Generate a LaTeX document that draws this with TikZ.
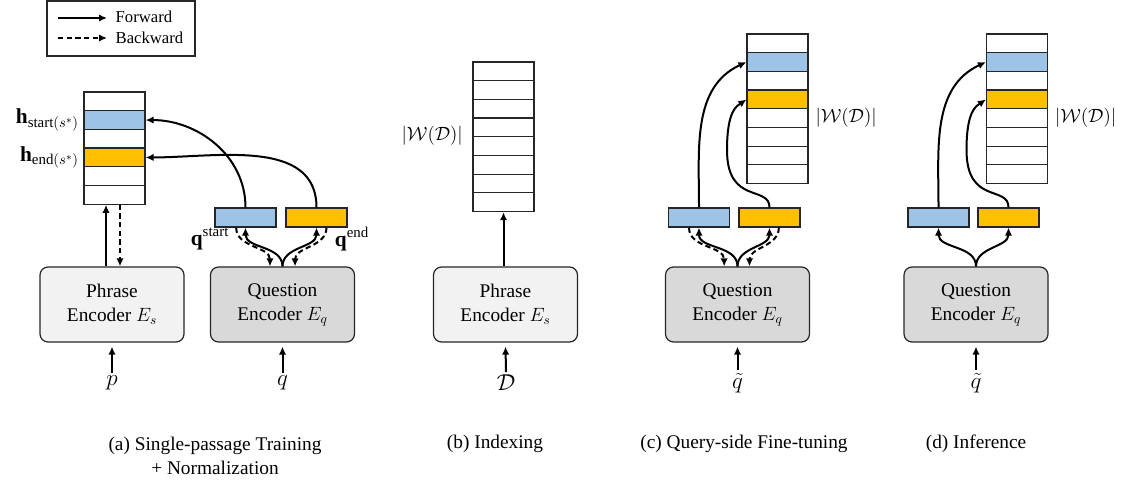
\documentclass[tikz,border=0pt]{standalone}
\usepackage{fontspec}
\setmainfont{Liberation Serif}
\usepackage{amsmath}
\usetikzlibrary{arrows.meta}
\usetikzlibrary{positioning}
\usetikzlibrary{math}
\definecolor{qblue}{RGB}{157,195,230}
\definecolor{qyellow}{RGB}{255,192,0}
\definecolor{phrasefill}{RGB}{242,242,242}
\definecolor{questfill}{RGB}{217,217,217}
\tikzset{
	cell/.style={draw=black!85, line width=0.9pt, minimum width=45.75pt, minimum height=14.03pt, inner sep=0pt},
	vec/.style={draw=black!85, line width=0.9pt, minimum width=45.75pt, minimum height=14.25pt, inner sep=0pt},
	enc/.style={draw=black!85, line width=0.9pt, rounded corners=6pt, minimum width=108pt, minimum height=56.25pt, align=center},
	fw/.style={line width=1.5pt, -{Latex[length=6pt,width=5.5pt]}},
	bw/.style={fw, dash pattern=on 4pt off 2.5pt},
	inp/.style={font=\fontsize{18}{20}\selectfont, inner sep=2pt},
	sizelabel/.style={font=\fontsize{13.5}{16}\selectfont, inner sep=1pt},
}

\begin{document}
\begin{tikzpicture}[x=0.75pt, y=-0.75pt, font=\fontsize{14.5}{18}\selectfont]
	\tikzmath{\rh=18.7; \ta=92; \tb=62; \tc=34;}
	\useasboundingbox (0,0) rectangle (1126,484);

	% legend
	\node[draw=black!85, line width=0.9pt, minimum width=111pt, minimum height=41.25pt] (legend) at (121,28.5) {};
	\coordinate (fwA) at (58,18); \coordinate (fwB) at (107,18);
	\coordinate (bwA) at (58,38); \coordinate (bwB) at (107,38);
	\draw[fw] (fwA) -- (fwB);
	\draw[bw] (bwA) -- (bwB);
	\node[anchor=west, font=\fontsize{12.5}{14}\selectfont] (fwtext) at (111,17) {Forward};
	\node[anchor=west, font=\fontsize{12.5}{14}\selectfont] (bwtext) at (111,38) {Backward};

	% (a) single-passage training
	\foreach \i/\col in {1/white,2/qblue,3/white,4/qyellow,5/white,6/white}
		\node[cell, fill=\col] (a\i) at (114.5, {\ta+(\i-0.5)*\rh}) {};
	\node[left=0pt of a2, font=\fontsize{16}{18}\selectfont] (hstart) {$\mathbf{h}_{\mathrm{start}(s^*)}$};
	\node[left=0pt of a4, font=\fontsize{16}{18}\selectfont] (hend) {$\mathbf{h}_{\mathrm{end}(s^*)}$};
	\node[enc, fill=phrasefill] (pa) at (112,304.5) {Phrase\\Encoder $E_s$};
	\node[enc, fill=questfill] (qa) at (282.5,304.5) {Question\\Encoder $E_q$};
	\node[vec, fill=qblue] (sa) at (245.5,217.5) {};
	\node[vec, fill=qyellow] (ea) at (316.5,217.5) {};
	\node[font=\fontsize{16}{18}\selectfont] (qstart) at (210,239) {$\mathbf{q}^{\mathrm{start}}$};
	\node[font=\fontsize{16}{18}\selectfont] (qend) at (352,239) {$\mathbf{q}^{\mathrm{end}}$};
	\draw[fw] (sa.north) to[out=90,in=0] (a2.east);
	\draw[fw] (ea.north) to[out=90,in=0] (a4.east);
	\draw[fw] (qa.north) to[out=90,in=-90] (sa.south);
	\draw[fw] (qa.north) to[out=90,in=-90] (ea.south);
	\draw[bw] ([xshift=-7pt]sa.south) to[out=-90,in=90] ([xshift=-9.4pt]qa.north);
	\draw[bw] ([xshift=7.5pt]ea.south) to[out=-90,in=90] ([xshift=9.4pt]qa.north);
	\draw[fw] ([xshift=-4.5pt]pa.north) -- ([xshift=-4.5pt]pa.north |- a6.south);
	\draw[bw] ([xshift=6pt]pa.north |- a6.south) -- ([xshift=6pt]pa.north);
	\node[inp] (p) at (112,383) {$p$};
	\node[inp] (q) at (282.5,383) {$q$};
	\draw[fw] (p.north) -- ([yshift=-3pt]pa.south);
	\draw[fw] (q.north) -- ([yshift=-3pt]qa.south);
	\node[align=center] (capa) at (215,456) {(a) Single-passage Training\\+ Normalization};

	% (b) indexing
	\foreach \i in {1,...,8}
		\node[cell, fill=white] (b\i) at (503.5, {\tb+(\i-0.5)*\rh}) {};
	\node[sizelabel, left=6pt of b5.north west] (wb) {$|\mathcal{W}(\mathcal{D})|$};
	\node[enc, fill=phrasefill] (pb) at (505.5,304.5) {Phrase\\Encoder $E_s$};
	\draw[fw] (b8.south |- pb.north) -- (b8.south);
	\node[inp] (docs) at (506,383) {$\mathcal{D}$};
	\draw[fw] (docs.north) -- ([yshift=-3pt]pb.south);
	\node (capb) at (495,444) {(b) Indexing};

	% (c) query-side fine-tuning
	\foreach \i/\col in {1/white,2/qblue,3/white,4/qyellow,5/white,6/white,7/white,8/white}
		\node[cell, fill=\col] (c\i) at (777.5, {\tc+(\i-0.5)*\rh}) {};
	\node[sizelabel, right=4pt of c5] (wc) {$|\mathcal{W}(\mathcal{D})|$};
	\node[enc, fill=questfill] (qc) at (737.5,304.5) {Question\\Encoder $E_q$};
	\node[vec, fill=qblue] (sc) at (699,217.5) {};
	\node[vec, fill=qyellow] (ec) at (769.5,217.5) {};
	\draw[fw] (sc.north) to[out=90,in=205] (c2.west);
	\draw[fw] (ec.north) .. controls (769.5,185) and (727,205) .. (727,150)
		.. controls (727,110) and (737,106) .. (c4.west);
	\draw[fw] (qc.north) to[out=90,in=-90] (sc.south);
	\draw[fw] (qc.north) to[out=90,in=-90] (ec.south);
	\draw[bw] ([xshift=-7.5pt]sc.south) to[out=-90,in=90] ([xshift=-10pt]qc.north);
	\draw[bw] ([xshift=7pt]ec.south) to[out=-90,in=90] ([xshift=9pt]qc.north);
	\node[inp] (qtc) at (737.5,383) {$\tilde{q}$};
	\draw[fw] (qtc.north) -- ([yshift=-3pt]qc.south);
	\node (capc) at (744,444) {(c) Query-side Fine-tuning};

	% (d) inference
	\foreach \i/\col in {1/white,2/qblue,3/white,4/qyellow,5/white,6/white,7/white,8/white}
		\node[cell, fill=\col] (d\i) at (1017, {\tc+(\i-0.5)*\rh}) {};
	\node[sizelabel, right=4pt of d5] (wd) {$|\mathcal{W}(\mathcal{D})|$};
	\node[enc, fill=questfill] (qd) at (976,304.5) {Question\\Encoder $E_q$};
	\node[vec, fill=qblue] (sd) at (938.5,217.5) {};
	\node[vec, fill=qyellow] (ed) at (1008.5,217.5) {};
	\draw[fw] (sd.north) to[out=90,in=205] (d2.west);
	\draw[fw] (ed.north) .. controls (1008.5,185) and (966.5,205) .. (966.5,150)
		.. controls (966.5,110) and (976.5,106) .. (d4.west);
	\draw[fw] (qd.north) to[out=90,in=-90] (sd.south);
	\draw[fw] (qd.north) to[out=90,in=-90] (ed.south);
	\node[inp] (qtd) at (976,383) {$\tilde{q}$};
	\draw[fw] (qtd.north) -- ([yshift=-3pt]qd.south);
	\node (capd) at (976,444) {(d) Inference};
\end{tikzpicture}
\end{document}
